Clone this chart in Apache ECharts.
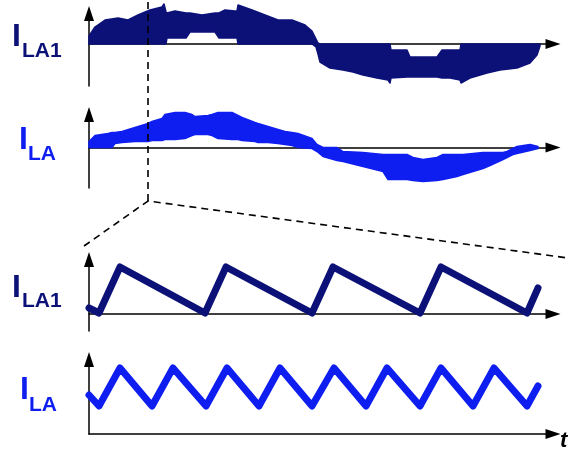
<!DOCTYPE html>
<html>
<head>
<meta charset="utf-8">
<script src="https://cdn.jsdelivr.net/npm/echarts@6/dist/echarts.min.js"></script>
<style>
  html, body { margin: 0; padding: 0; background: #fff; }
  #chart { width: 579px; height: 453px; }
</style>
</head>
<body>
<div id="chart"></div>
<script>
var navy = '#0c1178';
var blue = '#0f1ef0';

// upper panels: envelope (upper / lower edge) of each current over one line period
var ila1EnvT  = [0, 6, 16, 29, 39, 49, 61, 73, 75, 77, 78, 86, 97, 101, 113, 126, 130, 136, 146, 148, 149, 163, 176, 189, 203, 216, 223, 227, 229, 231, 241, 254, 264, 274, 288, 299, 301, 302, 318, 321, 334, 348, 353, 361, 371, 372, 381, 398, 411, 428, 441, 448, 451];
var ila1EnvHi = [8, 17, 24, 26, 24, 29, 34, 37, 40, 32, 31, 33, 31, 31, 29, 31, 31, 34, 33, 33, 39, 34, 29, 24, 24, 19, 13, 5, 1, 0, 0, 0, 0, 0, 0, 0, 0, -6, -6, -13, -13, -13, -6, -6, -6, 0, 0, 0, 0, 0, 0, 0, 0];
var ila1EnvLo = [0, 0, 0, 0, 0, 0, 0, 0, 0, 0, 6, 6, 6, 12, 12, 12, 6, 6, 6, 6, 0, 0, 0, 0, 0, 0, 0, -3, -10, -18, -24, -26, -28, -31, -34, -36, -39, -34, -33, -33, -33, -33, -34, -34, -36, -39, -34, -29, -26, -24, -19, -11, -2];

var ilaEnvT  = [0, 6, 19, 23, 26, 33, 46, 59, 63, 73, 76, 86, 96, 103, 106, 119, 123, 129, 143, 149, 153, 166, 169, 179, 189, 196, 203, 209, 223, 228, 234, 248, 254, 274, 294, 299, 308, 318, 324, 334, 348, 354, 368, 374, 384, 394, 401, 414, 418, 424, 428, 441, 449];
var ilaEnvHi = [6, 12, 14, 15, 15, 16, 20, 24, 26, 29, 33, 35, 35, 33, 31, 32, 33, 35, 35, 32, 30, 25, 24, 21, 18, 16, 15, 14, 9, 3, 0, 0, -4, -5, -7, -7, -7, -7, -10, -12, -10, -7, -7, -7, -6, -5, -5, -5, -4, -1, 1, 3, 1];
var ilaEnvLo = [0, 0, 0, 0, 4, 5, 6, 6, 7, 7, 8, 8, 9, 12, 13, 13, 12, 9, 8, 8, 7, 6, 5, 5, 4, 3, 2, 0, -1, -4, -9, -13, -14, -19, -24, -32, -32, -32, -33, -34, -33, -32, -29, -27, -24, -21, -18, -12, -10, -7, -6, -3, -1];

// lower panels: switching ripple (zoomed in)
var ila1RipT = [0, 10, 31, 116, 137, 223, 244, 331, 352, 438, 449];
var ila1Rip  = [6, 1, 47, 1, 47, 1, 47, 1, 47, 1, 26];
var ilaRipT  = [0, 10, 31, 63, 84, 117, 138, 170, 191, 223, 245, 277, 298, 331, 352, 384, 405, 438, 449];
var ilaRip   = [39, 28, 66, 28, 66, 28, 66, 28, 66, 28, 66, 28, 66, 28, 66, 28, 66, 28, 48];

var zoomT = 59; // where the lower panels are taken from

function pairs(t, v) {
  return t.map(function (x, i) { return [x, v[i]]; });
}

function xAx(i) {
  return {
    gridIndex: i, type: 'value', min: 0, max: 464,
    axisLine: { onZero: true, symbol: ['none', 'triangle'], symbolSize: [10, 15], lineStyle: { color: '#000', width: 1.5 } },
    axisTick: { show: false }, axisLabel: { show: false }, splitLine: { show: false }
  };
}
function yAx(i, min, max) {
  return {
    gridIndex: i, type: 'value', min: min, max: max,
    axisLine: { show: true, symbol: ['none', 'triangle'], symbolSize: [10, 15], lineStyle: { color: '#000', width: 1.5 } },
    axisTick: { show: false }, axisLabel: { show: false }, splitLine: { show: false }
  };
}
// filled envelope: upper edge forward, lower edge back
function band(i, t, hi, lo, color) {
  return {
    type: 'custom', xAxisIndex: i, yAxisIndex: i, clip: false, silent: true, z: 2,
    data: t.map(function (x, k) { return [x, hi[k], lo[k]]; }),
    renderItem: function (params, api) {
      if (params.dataIndex !== 0) return null;
      var pts = [];
      for (var k = 0; k < t.length; k++) pts.push(api.coord([t[k], hi[k]]));
      for (var j = t.length - 1; j >= 0; j--) pts.push(api.coord([t[j], lo[j]]));
      return { type: 'polygon', shape: { points: pts }, style: { fill: color, stroke: color, lineWidth: 1.5, lineJoin: 'round' } };
    }
  };
}
function ripple(i, t, v, color) {
  return { type: 'line', xAxisIndex: i, yAxisIndex: i, data: pairs(t, v), symbol: 'none', clip: false, silent: true,
    lineStyle: { width: 7, color: color, cap: 'round', join: 'round' } };
}
function label(x, y, txt, size, color, italic) {
  return { type: 'text', z: 20, x: x, y: y,
    style: { text: txt, font: (italic ? 'italic ' : '') + 'bold ' + size + 'px "Liberation Sans", Arial, sans-serif', fill: color,
      textAlign: 'left', textVerticalAlign: 'middle', align: 'left', verticalAlign: 'middle' } };
}

var chart = echarts.init(document.getElementById('chart'));
chart.setOption({
  animation: false,
  backgroundColor: '#fff',
  grid: [
    { left: 89, top: 13.5, width: 464, height: 72.5 },
    { left: 89, top: 114.5, width: 464, height: 73.5 },
    { left: 89, top: 259.5, width: 464, height: 71.5 },
    { left: 89, top: 359.5, width: 464, height: 74.5 }
  ],
  xAxis: [xAx(0), xAx(1), xAx(2), xAx(3)],
  yAxis: [yAx(0, -42, 30.5), yAx(1, -40.5, 33), yAx(2, -17, 54.5), yAx(3, 0, 74.5)],
  series: [
    band(0, ila1EnvT, ila1EnvHi, ila1EnvLo, navy),
    band(1, ilaEnvT, ilaEnvHi, ilaEnvLo, blue),
    ripple(2, ila1RipT, ila1Rip, navy),
    ripple(3, ilaRipT, ilaRip, blue)
  ]
});

var zx = chart.convertToPixel({ xAxisIndex: 0 }, zoomT);
var dash = { stroke: '#000', lineWidth: 1.6, lineDash: [7, 5], fill: null };
chart.setOption({
  graphic: [
    { type: 'polyline', z: 15, shape: { points: [[zx, 2], [zx, 201]] }, style: dash },
    { type: 'polyline', z: 15, shape: { points: [[84, 246], [zx, 201], [568, 258]] }, style: dash },
    label(12, 37, 'I', 32, navy), label(22, 51, 'LA1', 21, navy),
    label(19, 140, 'I', 32, blue), label(28, 154, 'LA', 21, blue),
    label(12, 288, 'I', 32, navy), label(22, 301, 'LA1', 21, navy),
    label(20, 390, 'I', 32, blue), label(29, 405, 'LA', 21, blue),
    label(560, 441, 't', 22, '#000', true)
  ]
});
</script>
</body>
</html>
